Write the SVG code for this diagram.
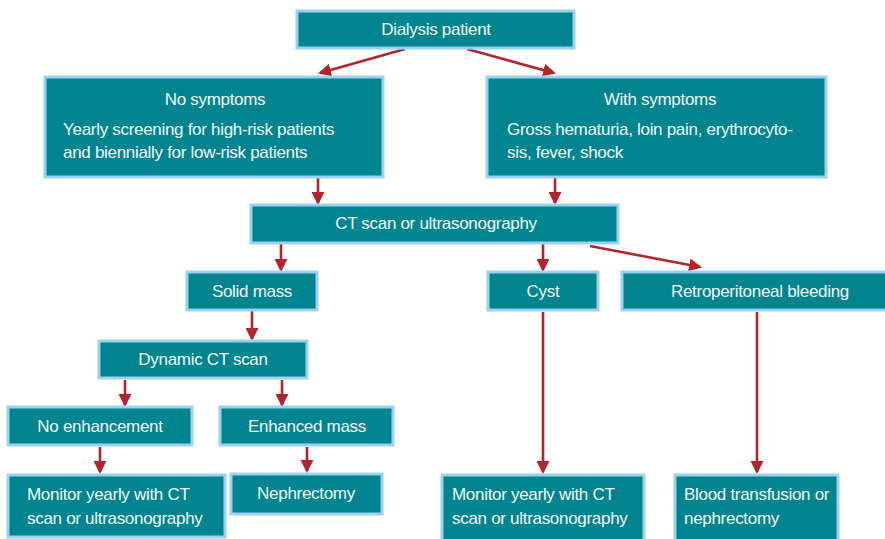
<svg xmlns="http://www.w3.org/2000/svg" width="885" height="539" viewBox="0 0 885 539">
<style>
.box{fill:#00848F;stroke:#9CD2EE;stroke-width:3}
.t{font-family:"Liberation Sans",Arial,sans-serif;font-size:17px;fill:#F4FAFA;letter-spacing:-0.3px}
.c{text-anchor:middle}
.ln{stroke:#B3252C;stroke-width:2.6;fill:none;marker-end:url(#ah)}
</style>
<defs>
<marker id="ah" markerWidth="5" markerHeight="5" refX="4.2" refY="2.5" orient="auto" markerUnits="strokeWidth">
<path d="M0,0 L5,2.5 L0,5 Z" fill="#B3252C"/>
</marker>
</defs>
<rect width="885" height="539" fill="#ffffff"/>
<g id="connectors">
<line class="ln" x1="405" y1="49" x2="320" y2="73"/>
<line class="ln" x1="467" y1="49" x2="554" y2="73"/>
<line class="ln" x1="318" y1="178" x2="318" y2="203"/>
<line class="ln" x1="555" y1="178" x2="555" y2="203"/>
<line class="ln" x1="281" y1="244" x2="281" y2="270"/>
<line class="ln" x1="543" y1="244" x2="543" y2="270"/>
<line class="ln" x1="590" y1="246" x2="700" y2="267"/>
<line class="ln" x1="252" y1="311" x2="252" y2="339"/>
<line class="ln" x1="125" y1="380" x2="125" y2="405"/>
<line class="ln" x1="282" y1="380" x2="282" y2="405"/>
<line class="ln" x1="100" y1="447" x2="100" y2="472"/>
<line class="ln" x1="307" y1="447" x2="307" y2="471"/>
<line class="ln" x1="543" y1="312" x2="543" y2="472"/>
<line class="ln" x1="757" y1="312" x2="757" y2="472"/>
</g>
<g id="dialysis">
<rect class="box" x="297" y="11" width="277" height="37"/>
<text class="t c" x="436" y="35">Dialysis patient</text>
</g>
<g id="no-symptoms">
<rect class="box" x="45" y="77" width="338" height="100"/>
<text class="t c" x="215" y="105">No symptoms</text>
<text class="t" x="63" y="135">Yearly screening for high-risk patients</text>
<text class="t" x="63" y="158">and biennially for low-risk patients</text>
</g>
<g id="with-symptoms">
<rect class="box" x="487" y="77" width="339" height="100"/>
<text class="t c" x="660" y="105">With symptoms</text>
<text class="t" x="507" y="135">Gross hematuria, loin pain, erythrocyto-</text>
<text class="t" x="507" y="158">sis, fever, shock</text>
</g>
<g id="ct-scan">
<rect class="box" x="251" y="205" width="367" height="38"/>
<text class="t c" x="436" y="229">CT scan or ultrasonography</text>
</g>
<g id="solid-mass">
<rect class="box" x="187" y="272" width="130" height="38"/>
<text class="t c" x="252" y="297">Solid mass</text>
</g>
<g id="cyst">
<rect class="box" x="488" y="272" width="110" height="38"/>
<text class="t c" x="543" y="297">Cyst</text>
</g>
<g id="retroperitoneal">
<rect class="box" x="622" y="272" width="270" height="38"/>
<text class="t c" x="760" y="297">Retroperitoneal bleeding</text>
</g>
<g id="dynamic-ct">
<rect class="box" x="99" y="341" width="208" height="37"/>
<text class="t c" x="203" y="365">Dynamic CT scan</text>
</g>
<g id="no-enhancement">
<rect class="box" x="8" y="407" width="184" height="38"/>
<text class="t c" x="100" y="432">No enhancement</text>
</g>
<g id="enhanced-mass">
<rect class="box" x="220" y="407" width="173" height="38"/>
<text class="t c" x="307" y="432">Enhanced mass</text>
</g>
<g id="monitor-left">
<rect class="box" x="8" y="475" width="217" height="62"/>
<text class="t" x="27" y="500">Monitor yearly with CT</text>
<text class="t" x="27" y="524">scan or ultrasonography</text>
</g>
<g id="nephrectomy">
<rect class="box" x="231" y="474" width="151" height="40"/>
<text class="t c" x="306" y="499">Nephrectomy</text>
</g>
<g id="monitor-right">
<rect class="box" x="442" y="475" width="202" height="70"/>
<text class="t" x="452" y="500">Monitor yearly with CT</text>
<text class="t" x="452" y="524">scan or ultrasonography</text>
</g>
<g id="blood">
<rect class="box" x="675" y="475" width="163" height="70"/>
<text class="t" x="684" y="500">Blood transfusion or</text>
<text class="t" x="684" y="524">nephrectomy</text>
</g>
</svg>
